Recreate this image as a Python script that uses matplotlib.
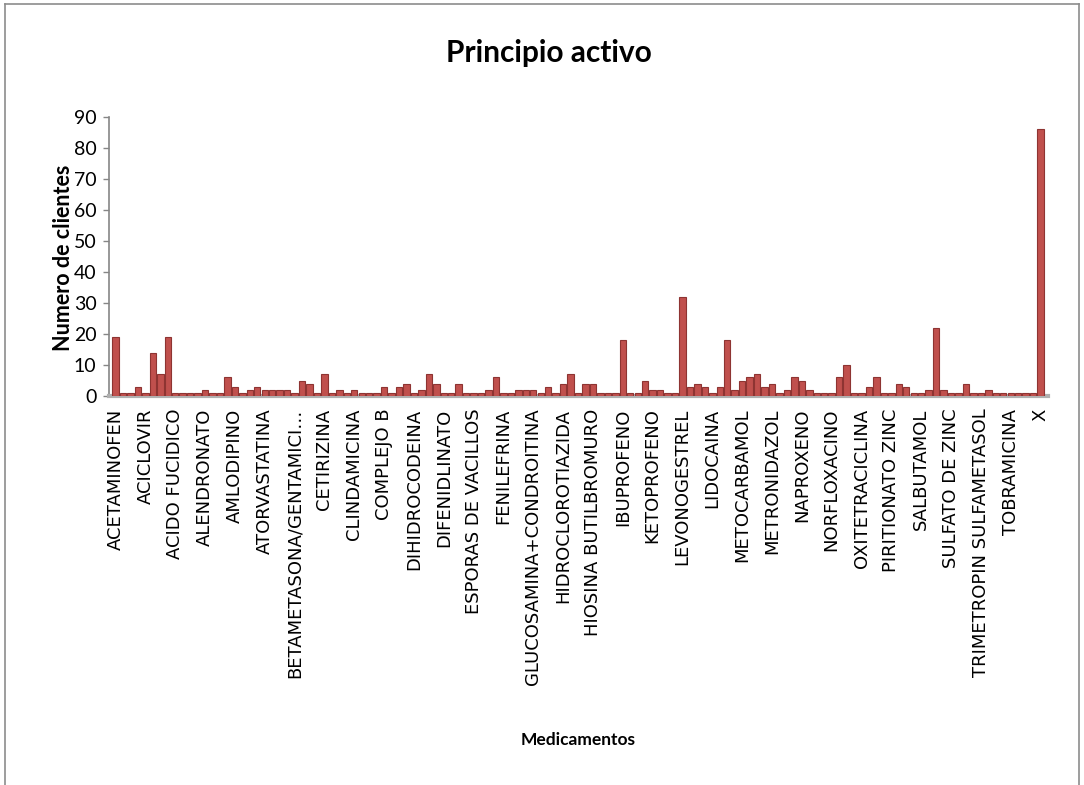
import matplotlib
matplotlib.use("Agg")
import matplotlib.pyplot as plt
from matplotlib.lines import Line2D

# Clients per active ingredient (125 categories, every 4th one labelled)
clientes = [
    19, 1, 1, 3, 1, 14, 7, 19, 1, 1, 1, 1, 2, 1, 1, 6, 3, 1, 2, 3,
    2, 2, 2, 2, 1, 5, 4, 1, 7, 1, 2, 1, 2, 1, 1, 1, 3, 1, 3, 4,
    1, 2, 7, 4, 1, 1, 4, 1, 1, 1, 2, 6, 1, 1, 2, 2, 2, 1, 3, 1,
    4, 7, 1, 4, 4, 1, 1, 1, 18, 1, 1, 5, 2, 2, 1, 1, 32, 3, 4, 3,
    1, 3, 18, 2, 5, 6, 7, 3, 4, 1, 2, 6, 5, 2, 1, 1, 1, 6, 10, 1,
    1, 3, 6, 1, 1, 4, 3, 1, 1, 2, 22, 2, 1, 1, 4, 1, 1, 2, 1, 1,
    1, 1, 1, 1, 86,
]

etiquetas = [
    "ACETAMINOFEN", "ACICLOVIR", "ACIDO FUCIDICO", "ALENDRONATO",
    "AMLODIPINO", "ATORVASTATINA", "BETAMETASONA/GENTAMICI\u2026",
    "CETIRIZINA", "CLINDAMICINA", "COMPLEJO B", "DIHIDROCODEINA",
    "DIFENIDLINATO", "ESPORAS DE VACILLOS", "FENILEFRINA",
    "GLUCOSAMINA+CONDROITINA", "HIDROCLOROTIAZIDA", "HIOSINA BUTILBROMURO",
    "IBUPROFENO", "KETOPROFENO", "LEVONOGESTREL", "LIDOCAINA",
    "METOCARBAMOL", "METRONIDAZOL", "NAPROXENO", "NORFLOXACINO",
    "OXITETRACICLINA", "PIRITIONATO ZINC", "SALBUTAMOL", "SULFATO DE ZINC",
    "TRIMETROPIN SULFAMETASOL", "TOBRAMICINA", "X",
]
paso_etiqueta = 4
yticks = list(range(0, 91, 10))

humanist = ["Lato", "DejaVu Sans"]

fig = plt.figure(figsize=(10.84, 7.85), dpi=100)
ax = fig.add_axes([0.1006, 0.4955, 0.8662, 0.3555])

x = list(range(len(clientes)))
ax.bar(x, clientes, width=0.86, color="#C0504D", edgecolor="#8E3432",
       linewidth=0.8, zorder=3)

ax.set_xlim(-0.87, len(clientes))
ax.set_ylim(0, 90)
ax.set_yticks(yticks)
ax.set_yticklabels([str(v) for v in yticks], family=humanist, fontsize=14)

pos = list(range(0, len(clientes), paso_etiqueta))
ax.set_xticks(pos)
ax.set_xticklabels(etiquetas, rotation=90, family="DejaVu Sans", fontsize=13)

ax.tick_params(axis="y", direction="out", length=4, width=1, color="#868686", pad=5)
ax.tick_params(axis="x", length=0, pad=9)

for s in ("top", "right"):
    ax.spines[s].set_visible(False)
ax.spines["left"].set_color("#868686")
ax.spines["left"].set_linewidth(1.2)
ax.spines["bottom"].set_color("#B0B0B0")
ax.spines["bottom"].set_linewidth(3)

fig.text(0.506, 0.933, "Principio activo", ha="center", va="center",
         family=humanist, fontsize=21.5, fontweight="bold")
fig.text(0.059, 0.671, "Numero de clientes", rotation=90, ha="center",
         va="center", family=humanist, fontsize=15.5, fontweight="bold")
fig.text(0.533, 0.057, "Medicamentos", ha="center", va="center",
         family=humanist, fontsize=12.5, fontweight="bold")

# Chart frame
frame_kw = dict(color="#8C8C8C", linewidth=1.2, transform=fig.transFigure)
fig.add_artist(Line2D([0.005, 0.005], [0.0, 0.995], **frame_kw))
fig.add_artist(Line2D([0.005, 0.995], [0.995, 0.995], **frame_kw))
fig.add_artist(Line2D([0.995, 0.995], [0.0, 0.995], **frame_kw))

fig.savefig("out.png", dpi=100)
